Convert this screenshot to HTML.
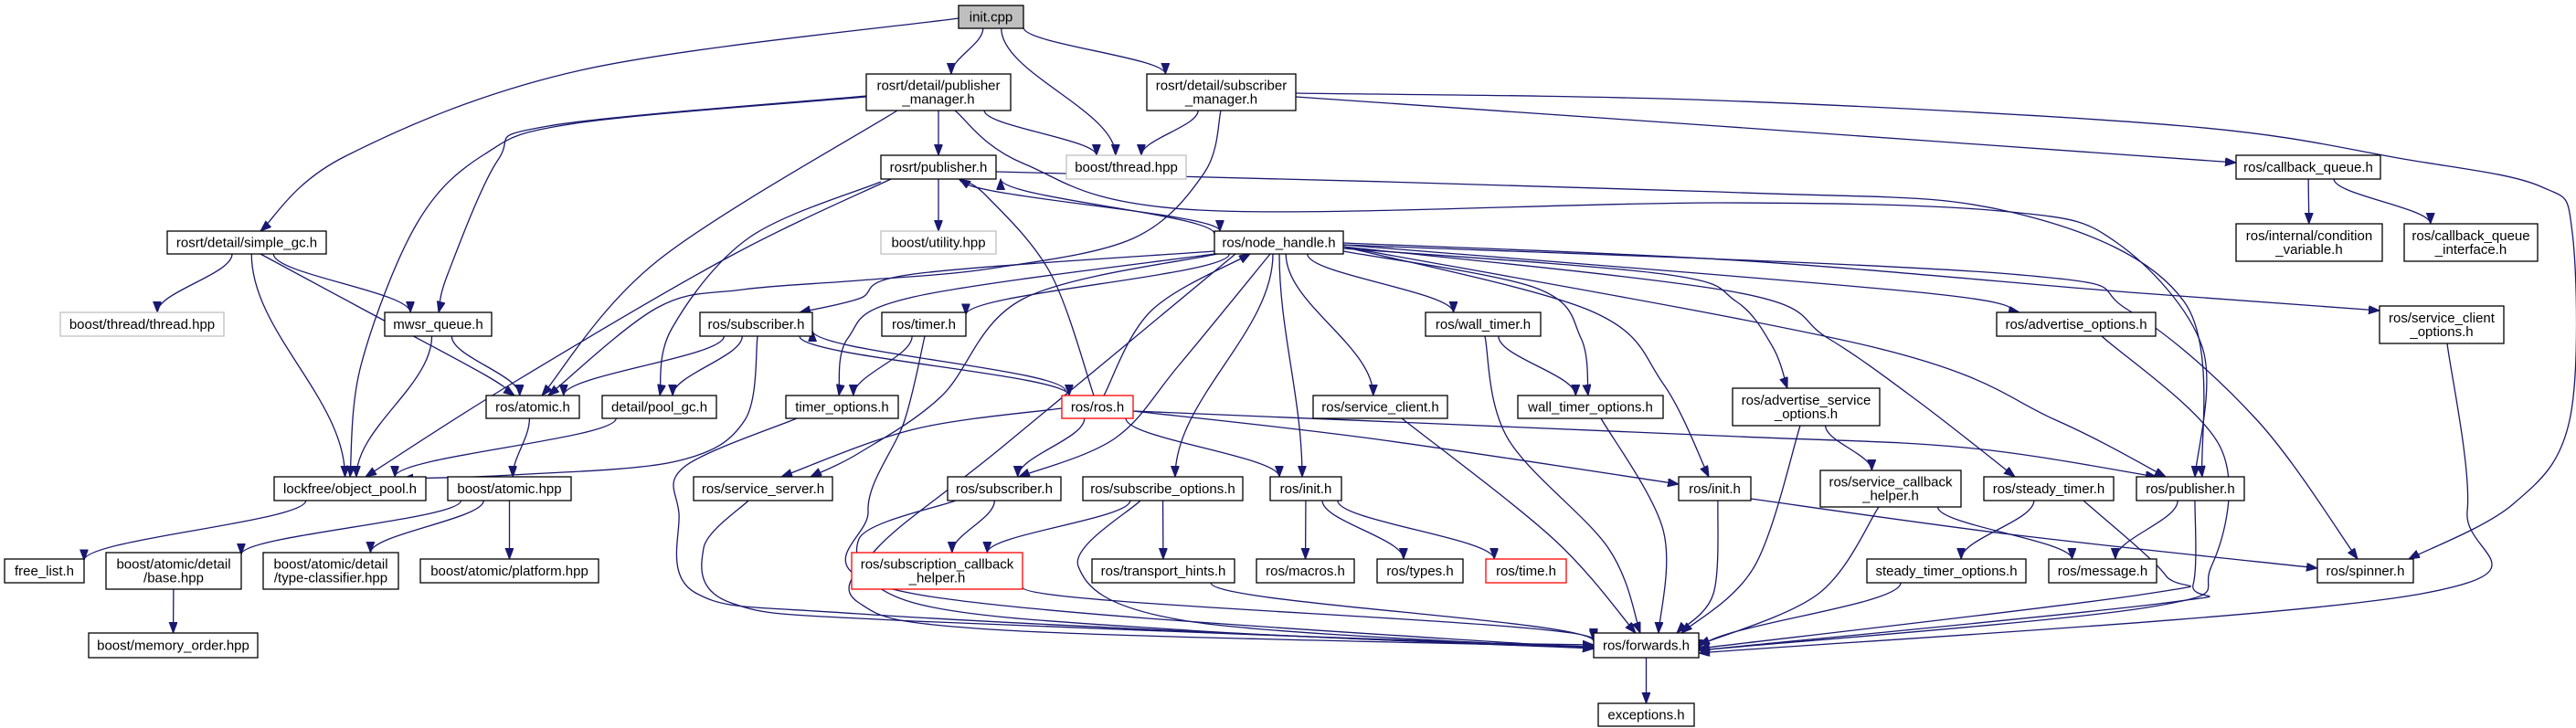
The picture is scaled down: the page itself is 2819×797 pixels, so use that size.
<!DOCTYPE html>
<html><head><meta charset="utf-8"><style>
html,body{margin:0;padding:0;background:#fff;width:2819px;height:797px;overflow:hidden}
svg text{font-family:"Liberation Sans",sans-serif;font-size:15px;fill:#000}
</style></head><body>
<svg id="g" width="2819" height="797" xmlns="http://www.w3.org/2000/svg">
<defs><marker id="a" markerUnits="userSpaceOnUse" markerWidth="13" markerHeight="10" refX="12" refY="4.5" orient="auto"><path d="M0,0 L12,4.5 L0,9 z" fill="#191970" stroke="#191970"/></marker></defs>
<g id="E"></g><g id="N"></g>
</svg>
<script>
var N={
init:[1049,6,1120,31,["init.cpp"],"g"],
pm:[948,81,1106,121,["rosrt/detail/publisher","_manager.h"]],
sm:[1255,81,1418,121,["rosrt/detail/subscriber","_manager.h"]],
rp:[964,170,1090,196,["rosrt/publisher.h"]],
bth:[1167,170,1298,196,["boost/thread.hpp"],"l"],
cq:[2447,170,2605,196,["ros/callback_queue.h"]],
gc:[183,253,357,278,["rosrt/detail/simple_gc.h"]],
bu:[964,253,1090,278,["boost/utility.hpp"],"l"],
nh:[1329,253,1470,278,["ros/node_handle.h"]],
cv:[2447,245,2607,286,["ros/internal/condition","_variable.h"]],
cqi:[2631,245,2777,286,["ros/callback_queue","_interface.h"]],
btt:[66,342,245,368,["boost/thread/thread.hpp"],"l"],
mw:[421,342,538,368,["mwsr_queue.h"]],
su:[766,342,889,368,["ros/subscriber.h"]],
tm:[965,342,1057,368,["ros/timer.h"]],
wt:[1560,342,1686,368,["ros/wall_timer.h"]],
ao:[2185,342,2359,368,["ros/advertise_options.h"]],
sco:[2604,335,2740,376,["ros/service_client","_options.h"]],
at:[532,433,634,458,["ros/atomic.h"]],
pg:[659,433,784,458,["detail/pool_gc.h"]],
to:[860,433,983,458,["timer_options.h"]],
ros:[1162,433,1240,458,["ros/ros.h"],"r"],
sc:[1437,433,1584,458,["ros/service_client.h"]],
wto:[1661,433,1820,458,["wall_timer_options.h"]],
aso:[1896,425,2057,466,["ros/advertise_service","_options.h"]],
op:[300,522,466,548,["lockfree/object_pool.h"]],
ba:[490,522,625,548,["boost/atomic.hpp"]],
ss:[759,522,911,548,["ros/service_server.h"]],
sl:[1037,522,1161,548,["ros/subscriber.h"]],
so:[1185,522,1360,548,["ros/subscribe_options.h"]],
ih:[1390,522,1468,548,["ros/init.h"]],
ih2:[1837,522,1916,548,["ros/init.h"]],
sch:[1992,515,2146,555,["ros/service_callback","_helper.h"]],
st:[2171,522,2313,548,["ros/steady_timer.h"]],
pub:[2338,522,2456,548,["ros/publisher.h"]],
fl:[5,612,92,638,["free_list.h"]],
bb:[116,605,264,645,["boost/atomic/detail","/base.hpp"]],
btc:[288,605,436,645,["boost/atomic/detail","/type-classifier.hpp"]],
bp:[460,612,655,638,["boost/atomic/platform.hpp"]],
sbh:[932,605,1119,645,["ros/subscription_callback","_helper.h"],"r"],
th:[1195,612,1351,638,["ros/transport_hints.h"]],
mac:[1375,612,1482,638,["ros/macros.h"]],
ty:[1507,612,1601,638,["ros/types.h"]],
tim:[1626,612,1714,638,["ros/time.h"],"r"],
sto:[2043,612,2217,638,["steady_timer_options.h"]],
msg:[2242,612,2360,638,["ros/message.h"]],
sp:[2536,612,2641,638,["ros/spinner.h"]],
mo:[97,693,282,720,["boost/memory_order.hpp"]],
fw:[1744,693,1859,720,["ros/forwards.h"]],
ex:[1749,770,1854,795,["exceptions.h"]]
};
var E=[
["init","gc",[[635,77],[378,171]],[1049,20],[285,253]],
["init","pm"],["init","bth"],["init","sm"],
["pm","rp"],["pm","bth"],
["pm","mw",[[600,138],[545,175],[490,300]],[948,105],[480,342]],
["pm","op",[[630,135],[530,169],[456,245],[395,400]],[948,106],[383,522]],
["pm","at",[[719,286]],[982,121],[593,433]],
["pm","pub",[[1120,179],[1312,230],[1880,222],[2200,232],[2317,266],[2410,380]],[1045,121],[2402,522]],
["sm","bth"],
["sm","cq",[[1880,138]],[1418,106],[2447,178]],
["sm","sp",[[1880,110],[2390,138],[2630,174],[2780,204],[2815,255],[2812,460],[2750,552]],[1418,102],[2636,612]],
["sm","at",[[1318,189],[1240,261],[1084,294],[940,307],[813,317],[719,337]],[1336,121],[600,433]],
["rp","bu"],
["rp","nh",[],[1050,196],[1335,253]],
["nh","rp",[],[1329,256],[1095,196]],
["rp","op",[[800,280],[560,420]],[975,196],[400,522]],
["rp","pg",[[820,260],[735,360]],[964,199],[722,433]],
["rp","pub",[[1880,210],[2200,232],[2390,330]],[1090,188],[2410,522]],
["gc","btt"],["gc","mw"],["gc","op"],
["gc","at",[[400,340],[530,410]],[285,278],[563,433]],
["mw","at"],["mw","op"],["at","ba"],["pg","op"],
["op","fl"],["ba","bb"],["ba","btc"],["ba","bp"],["bb","mo"],
["su","at"],["su","pg"],
["su","op",[[815,460],[740,505],[560,520]],[829,368],[440,524]],
["su","ros",[],[875,368],[1170,433]],
["ros","su",[],[1166,428],[889,362]],
["to","fw",[[749,511],[743,562],[761,649],[940,672],[1500,700]],[872,458],[1744,706]],
["ss","fw",[[770,600],[800,660],[1000,680]],[819,548],[1744,708]],
["nh","su",[[1000,300],[940,327]],[1329,275],[875,342]],
["nh","tm"],
["nh","to",[[1000,325],[928,370]],[1329,278],[918,433]],
["nh","ss",[[1120,327],[1030,434],[940,496]],[1332,278],[887,522]],
["nh","fw",[[1096,490],[960,600],[940,660],[1100,690]],[1352,278],[1744,708]],
["nh","sl",[[1290,400],[1220,480]],[1390,278],[1115,522]],
["nh","so",[],[1393,278],[1286,522]],
["nh","ih",[],[1400,278],[1425,522]],
["nh","sc"],["nh","wt"],
["nh","wto",[[1680,315],[1730,370]],[1470,275],[1738,433]],
["nh","aso",[[1820,300],[1900,330],[1940,380]],[1470,272],[1956,425]],
["nh","ih2",[[1740,340],[1820,420]],[1470,270],[1870,522]],
["nh","ao",[[2100,320]],[1470,268],[2210,342]],
["nh","sco",[[1900,285],[2330,320]],[1470,266],[2604,340]],
["nh","st",[[1900,320],[2000,370],[2100,440]],[1470,270],[2205,522]],
["nh","pub",[[2050,380],[2250,460]],[1470,270],[2370,522]],
["nh","sp",[[2200,300],[2330,340],[2470,460]],[1470,268],[2580,612]],
["ros","nh",[[1260,340]],[1208,433],[1368,278]],
["ros","rp",[[1150,300],[1080,215]],[1197,433],[1050,196]],
["ros","ss",[[1000,470]],[1162,447],[855,522]],
["ros","sl"],["ros","ih",[],[1232,458],[1400,522]],
["ros","ih2",[[1500,480]],[1240,450],[1837,530]],
["ros","pub",[[1880,477],[2150,490]],[1240,450],[2360,522]],
["tm","to"],
["tm","fw",[[990,460],[950,560],[1000,650]],[1012,368],[1744,710]],
["wt","wto"],
["wt","fw",[[1650,480],[1760,600]],[1625,368],[1795,693]],
["sc","fw",[[1700,590]],[1534,458],[1790,693]],
["wto","fw",[[1820,580]],[1752,458],[1815,693]],
["sl","sbh"],
["sl","fw",[[940,590],[1000,660],[1300,690]],[1046,548],[1744,710]],
["so","sbh"],["so","th"],
["so","fw",[[1180,620],[1300,680]],[1248,548],[1744,710]],
["ih","mac"],["ih","ty"],["ih","tim"],
["ih2","fw",[[1875,650]],[1880,548],[1835,693]],
["ih2","sp",[[2200,585]],[1916,546],[2536,622]],
["sbh","fw",[],[1119,643],[1744,700]],
["th","fw",[],[1325,638],[1744,702]],
["aso","sch"],
["aso","fw",[[1920,620]],[1970,466],[1840,693]],
["sch","fw",[[1990,650]],[2056,555],[1859,706]],
["sch","msg"],["st","sto"],
["st","fw",[[2370,630],[2350,650]],[2280,548],[1859,710]],
["sto","fw",[],[2080,638],[1859,712]],
["pub","msg"],
["pub","fw",[[2400,640],[2370,660]],[2402,548],[1859,712]],
["ao","fw",[[2430,490],[2420,620],[2350,665]],[2300,368],[1859,712]],
["sco","fw",[[2700,560],[2650,650]],[2678,376],[1859,715]],
["cq","cv"],["cq","cqi"],["fw","ex"]
];
function ctr(n){return [(n[0]+n[2])/2,(n[1]+n[3])/2]}
function bnd(n,q){var c=ctr(n),dx=q[0]-c[0],dy=q[1]-c[1],hw=(n[2]-n[0])/2,hh=(n[3]-n[1])/2;
var t=Math.min(dx?hw/Math.abs(dx):1e9,dy?hh/Math.abs(dy):1e9);return [c[0]+dx*t,c[1]+dy*t]}
var ns="http://www.w3.org/2000/svg",eg=document.getElementById("E"),ng=document.getElementById("N");
E.forEach(function(e){var s=N[e[0]],t=N[e[1]],w=e[2]||[];
var p0=e[3]||bnd(s,w.length?w[0]:ctr(t)),p1=e[4]||bnd(t,w.length?w[w.length-1]:ctr(s));
var d;
if(!w.length){var dy=(p1[1]-p0[1])*0.35;d="M"+p0+" C"+[p0[0],p0[1]+dy]+" "+[p1[0],p1[1]-dy]+" "+p1;}
else{var P=[p0].concat(w,[p1]);d="M"+P[0];
for(var i=0;i<P.length-1;i++){var a=P[i-1]||P[i],b=P[i],c=P[i+1],f=P[i+2]||c;
d+=" C"+[b[0]+(c[0]-a[0])/6,b[1]+(c[1]-a[1])/6]+" "+[c[0]-(f[0]-b[0])/6,c[1]-(f[1]-b[1])/6]+" "+c;}}
var p=document.createElementNS(ns,"path");p.setAttribute("d",d);p.setAttribute("fill","none");
p.setAttribute("stroke","#191970");p.setAttribute("stroke-width","1.3");p.setAttribute("marker-end","url(#a)");eg.appendChild(p);});
for(var k in N){var n=N[k],r=document.createElementNS(ns,"rect");
r.setAttribute("x",n[0]);r.setAttribute("y",n[1]);r.setAttribute("width",n[2]-n[0]);r.setAttribute("height",n[3]-n[1]);
r.setAttribute("fill",n[5]=="g"?"#bfbfbf":"#fff");
r.setAttribute("stroke",n[5]=="l"?"#c0c0c0":n[5]=="r"?"#ff0000":"#000");r.setAttribute("stroke-width","1.3");ng.appendChild(r);
var L=n[4],cx=(n[0]+n[2])/2,cy=(n[1]+n[3])/2;
L.forEach(function(s,i){var t=document.createElementNS(ns,"text");t.setAttribute("x",cx);
t.setAttribute("y",cy+5+(i-(L.length-1)/2)*15);t.setAttribute("text-anchor","middle");t.textContent=s;ng.appendChild(t);});}
</script>
</body></html>
